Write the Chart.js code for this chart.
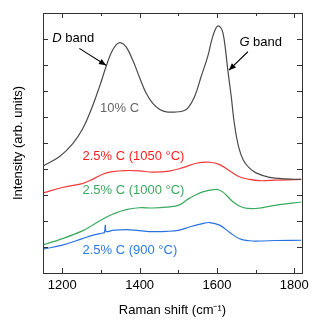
<!DOCTYPE html>
<html><head><meta charset="utf-8">
<script src="https://cdn.jsdelivr.net/npm/chart.js@4.4.1/dist/chart.umd.min.js"></script>
<style>html,body{margin:0;padding:0;background:#fff}#wrap{width:332px;height:332px}</style>
</head><body><div id="wrap"><canvas id="c"></canvas></div>
<script>
// Raman shift (cm-1) and intensities (arb. units, stacked offsets)
const xC10   = [1150,1192,1227,1253,1274,1296,1313,1326,1339,1350,1365,1382,1399,1417,1434,1452,1469,1490,1510,1524,1542,1559,1576,1589,1602,1613,1620,1628,1637,1645,1656,1668,1683,1701,1736,1779,1818];
const yC10   = [4.12,4.47,4.98,5.56,6.26,7.16,7.93,8.45,8.77,8.86,8.70,8.19,7.55,6.91,6.52,6.29,6.20,6.19,6.22,6.33,6.78,7.55,8.32,9.09,9.50,9.35,8.83,7.81,6.78,5.75,4.85,4.35,4.05,3.85,3.68,3.62,3.60];
const x1050  = [1150,1200,1252,1278,1304,1330,1364,1399,1434,1477,1512,1546,1581,1607,1633,1658,1684,1710,1753,1818];
const y1050  = [3.08,3.29,3.44,3.60,3.80,3.90,3.94,3.93,3.88,3.92,4.05,4.22,4.26,4.17,3.92,3.70,3.60,3.55,3.57,3.60];
const x1000  = [1150,1200,1252,1278,1305,1330,1365,1399,1434,1469,1503,1529,1563,1598,1615,1642,1667,1701,1753,1818];
const y1000  = [1.08,1.32,1.62,1.84,2.08,2.26,2.44,2.51,2.50,2.53,2.62,2.88,3.12,3.22,3.12,2.73,2.52,2.48,2.61,2.73];
const x900   = [1150,1200,1252,1278,1304,1309,1311,1314,1330,1365,1399,1434,1469,1503,1529,1563,1581,1607,1633,1658,1684,1710,1753,1818];
const y900   = [0.92,1.07,1.32,1.45,1.54,1.56,1.84,1.60,1.64,1.67,1.63,1.59,1.60,1.65,1.77,1.90,1.94,1.84,1.56,1.32,1.24,1.23,1.25,1.26];
const seriesNames = ['10% C','2.5% C (1050 °C)','2.5% C (1000 °C)','2.5% C (900 °C)'];
const xTickValues = [1200,1300,1400,1500,1600,1700,1800];
const xMajorTicks = [1200,1400,1600,1800];
const yTickValues = [0,1,2,3,4,5,6,7,8,9,10];

const colors = ['#4a4a4a','#f03a3a','#3aaa5e','#2a72e0'];
const textColors = ['#666666','#ff1e1e','#3aaa5e','#2a7ae8'];

const pts = (xs, ys) => xs.map((x,i)=>({x:x,y:ys[i]}));
const mk = (i, xs, ys) => ({label:seriesNames[i], data:pts(xs,ys), borderColor:colors[i], borderWidth:1.2, pointRadius:0, fill:false, tension:0.4});

// annotation positions in data coordinates
const notes = [
  {text:seriesNames[0], x:1348, y:6.34, color:textColors[0], align:'center'},
  {text:seriesNames[1], x:1252, y:4.47, color:textColors[1], align:'left'},
  {text:seriesNames[2], x:1252, y:3.18, color:textColors[2], align:'left'},
  {text:seriesNames[3], x:1252, y:0.87, color:textColors[3], align:'left'}
];
const bandNotes = [
  {ital:'D', rest:' band', x:1174, y:9.04, ax1:1244, ay1:8.64, ax2:1313, ay2:7.99},
  {ital:'G', rest:' band', x:1658, y:8.88, ax1:1680, ay1:8.51, ax2:1631, ay2:7.80}
];

const FONT = '"Liberation Sans", Arial, sans-serif';

const decor = {
  id:'decor',
  afterDatasetsDraw(chart){
    const ctx = chart.ctx, a = chart.chartArea, xs = chart.scales.x, ys = chart.scales.y;
    ctx.save();
    ctx.strokeStyle = '#333'; ctx.lineWidth = 1;
    ctx.strokeRect(Math.round(a.left)+0.5, Math.round(a.top)+0.5, Math.round(a.right-a.left), Math.round(a.bottom-a.top));
    ctx.beginPath();
    xTickValues.forEach(v=>{
      const px = Math.round(xs.getPixelForValue(v))+0.5;
      const L = xMajorTicks.includes(v) ? 5 : 3;
      ctx.moveTo(px, a.bottom); ctx.lineTo(px, a.bottom - L);
      ctx.moveTo(px, a.top); ctx.lineTo(px, a.top + L);
    });
    yTickValues.forEach(v=>{
      const py = Math.round(ys.getPixelForValue(v))+0.5;
      ctx.moveTo(a.left, py); ctx.lineTo(a.left + 5, py);
      ctx.moveTo(a.right, py); ctx.lineTo(a.right - 5, py);
    });
    ctx.stroke();
    // series labels
    ctx.font = '13px ' + FONT;
    ctx.textBaseline = 'middle';
    notes.forEach(n=>{
      ctx.fillStyle = n.color; ctx.textAlign = n.align;
      ctx.fillText(n.text, xs.getPixelForValue(n.x), ys.getPixelForValue(n.y));
    });
    // band labels + arrows
    bandNotes.forEach(b=>{
      const px = xs.getPixelForValue(b.x), py = ys.getPixelForValue(b.y);
      ctx.fillStyle = '#000'; ctx.textAlign = 'left';
      ctx.font = 'italic 13px ' + FONT;
      ctx.fillText(b.ital, px, py);
      const w = ctx.measureText(b.ital).width;
      ctx.font = '13px ' + FONT;
      ctx.fillText(b.rest, px + w, py);
      const x1 = xs.getPixelForValue(b.ax1), y1 = ys.getPixelForValue(b.ay1);
      const x2 = xs.getPixelForValue(b.ax2), y2 = ys.getPixelForValue(b.ay2);
      ctx.strokeStyle = '#000'; ctx.lineWidth = 1.1;
      ctx.beginPath(); ctx.moveTo(x1,y1); ctx.lineTo(x2,y2); ctx.stroke();
      const ang = Math.atan2(y2-y1, x2-x1), h = 7, hw = 3;
      ctx.beginPath();
      ctx.moveTo(x2,y2);
      ctx.lineTo(x2 - h*Math.cos(ang) + hw*Math.sin(ang), y2 - h*Math.sin(ang) - hw*Math.cos(ang));
      ctx.lineTo(x2 - h*Math.cos(ang) - hw*Math.sin(ang), y2 - h*Math.sin(ang) + hw*Math.cos(ang));
      ctx.closePath(); ctx.fillStyle = '#000'; ctx.fill();
    });
    ctx.restore();
  }
};

new Chart(document.getElementById('c'), {
  type:'line',
  data:{datasets:[mk(0,xC10,yC10), mk(1,x1050,y1050), mk(2,x1000,y1000), mk(3,x900,y900)]},
  options:{
    responsive:true, maintainAspectRatio:false, animation:false,
    layout:{padding:{left:0, right:30, top:13, bottom:0}},
    plugins:{legend:{display:false}, tooltip:{enabled:false}},
    scales:{
      x:{type:'linear', min:1150, max:1820,
        afterBuildTicks: s => { s.ticks = xTickValues.map(v=>({value:v})); },
        afterFit: s => { s.height = 332 - 273; },
        grid:{display:false, drawTicks:false}, border:{display:false},
        ticks:{autoSkip:false, maxRotation:0, padding:5, color:'#000', font:{family:FONT, size:13},
          callback: v => xMajorTicks.includes(v) ? String(v) : ''},
        title:{display:true, text:'Raman shift (cm\u207B\u00B9)', color:'#000', font:{family:FONT, size:13}, padding:{top:0, bottom:14}}
      },
      y:{type:'linear', min:0, max:10,
        afterBuildTicks: s => { s.ticks = yTickValues.map(v=>({value:v})); },
        afterFit: s => { s.width = 43; },
        grid:{display:false, drawTicks:false}, border:{display:false},
        ticks:{display:false},
        title:{display:true, text:'Intensity (arb. units)', color:'#000', font:{family:FONT, size:13}, padding:{top:11, bottom:0}}
      }
    }
  },
  plugins:[decor]
});
</script></body></html>
